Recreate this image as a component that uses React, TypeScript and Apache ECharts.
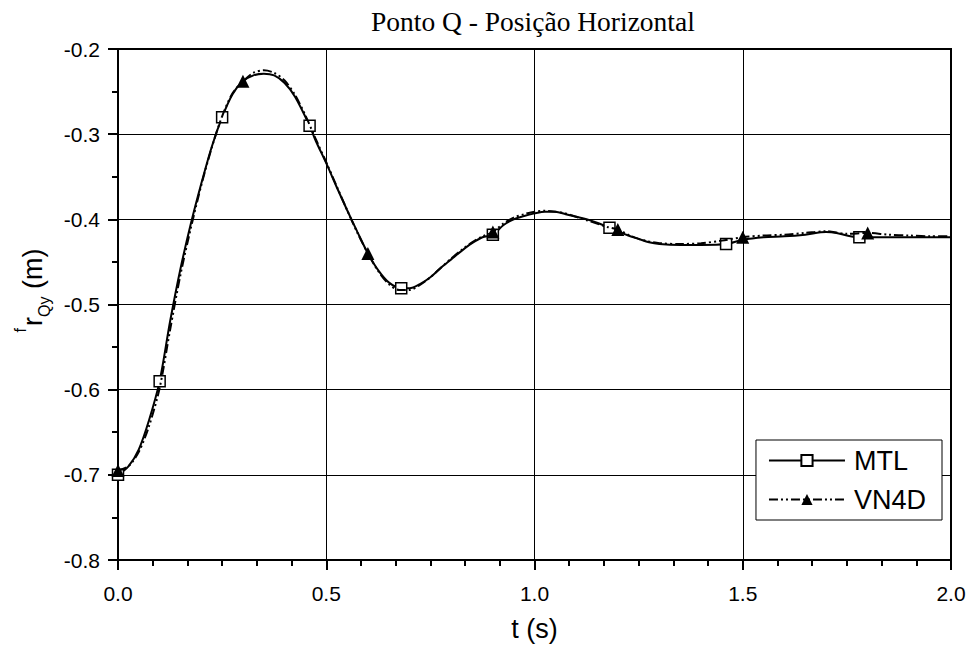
import React, { useEffect, useRef } from "react";
import * as echarts from "echarts";

const titleText = "Ponto Q - Posição Horizontal";
const xTicks = [0, 0.5, 1.0, 1.5, 2.0];
const yTicks = [-0.8, -0.7, -0.6, -0.5, -0.4, -0.3, -0.2];

const mtlT = [0, 0.025, 0.05, 0.075, 0.1, 0.125, 0.15, 0.175, 0.2, 0.225, 0.25, 0.275, 0.3, 0.325, 0.35, 0.375, 0.4, 0.425, 0.46, 0.475, 0.5, 0.525, 0.55, 0.575, 0.6, 0.625, 0.65, 0.68, 0.7, 0.725, 0.75, 0.775, 0.8, 0.825, 0.85, 0.875, 0.9, 0.925, 0.95, 0.975, 1.0, 1.025, 1.05, 1.075, 1.1, 1.125, 1.15, 1.18, 1.2, 1.225, 1.25, 1.275, 1.3, 1.35, 1.4, 1.46, 1.5, 1.55, 1.6, 1.65, 1.7, 1.725, 1.75, 1.78, 1.8, 1.85, 1.9, 1.95, 2.0];
const mtlV = [-0.700, -0.690, -0.670, -0.635, -0.590, -0.520, -0.458, -0.405, -0.358, -0.315, -0.280, -0.253, -0.238, -0.231, -0.229, -0.231, -0.240, -0.256, -0.290, -0.308, -0.334, -0.362, -0.389, -0.415, -0.440, -0.460, -0.474, -0.481, -0.481, -0.476, -0.468, -0.457, -0.447, -0.437, -0.428, -0.421, -0.418, -0.407, -0.400, -0.396, -0.393, -0.391, -0.391, -0.394, -0.397, -0.400, -0.404, -0.410, -0.414, -0.419, -0.423, -0.427, -0.429, -0.430, -0.430, -0.429, -0.424, -0.421, -0.420, -0.418, -0.415, -0.416, -0.419, -0.421, -0.421, -0.421, -0.421, -0.421, -0.421];
const mtlMarkT = [0, 0.1, 0.25, 0.46, 0.68, 0.9, 1.18, 1.46, 1.78];

const vnT = [0, 0.025, 0.05, 0.075, 0.1, 0.125, 0.15, 0.175, 0.2, 0.225, 0.25, 0.275, 0.3, 0.325, 0.35, 0.375, 0.4, 0.425, 0.45, 0.475, 0.5, 0.525, 0.55, 0.575, 0.6, 0.625, 0.65, 0.675, 0.7, 0.725, 0.75, 0.775, 0.8, 0.825, 0.85, 0.875, 0.9, 0.925, 0.95, 0.975, 1.0, 1.025, 1.05, 1.075, 1.1, 1.125, 1.15, 1.175, 1.2, 1.225, 1.25, 1.275, 1.3, 1.35, 1.4, 1.45, 1.5, 1.55, 1.6, 1.65, 1.7, 1.75, 1.8, 1.85, 1.9, 1.95, 2.0];
const vnV = [-0.695, -0.690, -0.673, -0.642, -0.598, -0.530, -0.465, -0.410, -0.360, -0.316, -0.279, -0.252, -0.238, -0.228, -0.225, -0.228, -0.237, -0.254, -0.278, -0.306, -0.333, -0.361, -0.389, -0.416, -0.440, -0.461, -0.476, -0.483, -0.483, -0.477, -0.468, -0.457, -0.446, -0.436, -0.427, -0.420, -0.415, -0.405, -0.398, -0.394, -0.391, -0.390, -0.391, -0.393, -0.397, -0.401, -0.405, -0.409, -0.412, -0.418, -0.423, -0.426, -0.428, -0.429, -0.428, -0.425, -0.421, -0.419, -0.418, -0.416, -0.414, -0.417, -0.416, -0.418, -0.419, -0.420, -0.420];
const vnMarkT = [0, 0.3, 0.6, 0.9, 1.2, 1.5, 1.8];

function buildData(ts: number[], vs: number[], marks: number[]) {
  return ts.map((t, i) => {
    const isMark = marks.some((m) => Math.abs(m - t) < 1e-9);
    return isMark ? { value: [t, vs[i]] } : { value: [t, vs[i]], symbol: "none" };
  });
}

export default function App() {
  const ref = useRef<HTMLDivElement>(null);
  useEffect(() => {
    if (!ref.current) return;
    const chart = echarts.init(ref.current, null, { renderer: "svg" });
    const sans = "Liberation Sans, Arial, sans-serif";
    chart.setOption({
      animation: false,
      backgroundColor: "#fff",
      title: {
        text: titleText,
        left: 366,
        top: 2,
        textStyle: { fontFamily: "Liberation Serif, Times New Roman, serif", fontSize: 27.5, fontWeight: "normal", color: "#000" },
      },
      grid: { left: 118, right: 18, top: 49, bottom: 88, show: true, borderColor: "#000", borderWidth: 2, backgroundColor: "transparent" },
      legend: {
        orient: "vertical",
        right: 27,
        top: 440,
        padding: [7, 16, 7, 12],
        itemGap: 12,
        itemWidth: 76,
        itemHeight: 14,
        borderColor: "#000",
        borderWidth: 1,
        backgroundColor: "#fff",
        textStyle: { fontFamily: sans, fontSize: 27, color: "#000", padding: [0, 0, 0, 4] },
        data: ["MTL", "VN4D"],
      },
      xAxis: {
        type: "value",
        min: 0,
        max: 2,
        interval: 0.5,
        name: "t (s)",
        nameLocation: "middle",
        nameGap: 55,
        nameTextStyle: { fontFamily: sans, fontSize: 27, color: "#000" },
        axisLine: { show: true, lineStyle: { color: "#000", width: 2 } },
        axisTick: { show: true, length: 10, lineStyle: { color: "#000", width: 2 } },
        minorTick: { show: true, splitNumber: 6, length: 6, lineStyle: { color: "#000", width: 2 } },
        axisLabel: {
          margin: 23,
          fontFamily: sans,
          fontSize: 21,
          color: "#000",
          formatter: (v: number) => (xTicks.some((x) => Math.abs(x - v) < 1e-9) ? v.toFixed(1) : ""),
        },
        splitLine: { show: true, lineStyle: { color: "#000", width: 1 } },
      },
      yAxis: {
        type: "value",
        min: -0.8,
        max: -0.2,
        interval: 0.1,
        name: "{sup|f}{r|r}{sub|Qy}{r| (m)}",
        nameLocation: "middle",
        nameRotate: 90,
        nameGap: 60,
        nameTextStyle: {
          fontFamily: sans,
          color: "#000",
          padding: [0, 0, 0, 28],
          rich: {
            r: { fontFamily: sans, fontSize: 27, color: "#000", lineHeight: 40, verticalAlign: "middle" },
            sup: { fontFamily: sans, fontSize: 16, color: "#000", lineHeight: 40, verticalAlign: "top", padding: [0, 2, 0, 0] },
            sub: { fontFamily: sans, fontSize: 16, color: "#000", lineHeight: 40, verticalAlign: "bottom" },
          },
        },
        axisLine: { show: true, lineStyle: { color: "#000", width: 2 } },
        axisTick: { show: true, length: 10, lineStyle: { color: "#000", width: 2 } },
        minorTick: { show: true, splitNumber: 2, length: 6, lineStyle: { color: "#000", width: 2 } },
        axisLabel: {
          margin: 18,
          fontFamily: sans,
          fontSize: 21,
          color: "#000",
          formatter: (v: number) => {
            const m = yTicks.find((y) => Math.abs(y - v) < 1e-9);
            return m !== undefined ? m.toFixed(1) : v.toFixed(1);
          },
        },
        splitLine: { show: true, lineStyle: { color: "#000", width: 1 } },
      },
      series: [
        {
          name: "MTL",
          type: "line",
          smooth: 0.3,
          symbol: "rect",
          symbolSize: 11,
          showSymbol: true,
          data: buildData(mtlT, mtlV, mtlMarkT),
          lineStyle: { color: "#000", width: 2, type: "solid" },
          itemStyle: { color: "#fff", borderColor: "#000", borderWidth: 1.5 },
          z: 3,
        },
        {
          name: "VN4D",
          type: "line",
          smooth: 0.3,
          symbol: "triangle",
          symbolSize: 13,
          showSymbol: true,
          data: buildData(vnT, vnV, vnMarkT),
          lineStyle: { color: "#000", width: 2, type: [9, 3, 2, 3, 2, 3] },
          itemStyle: { color: "#000", borderColor: "#000", borderWidth: 0 },
          z: 4,
        },
      ],
    });
    return () => chart.dispose();
  }, []);
  return <div ref={ref} style={{ width: 969, height: 648, position: "absolute", left: 0, top: 0 }} />;
}
